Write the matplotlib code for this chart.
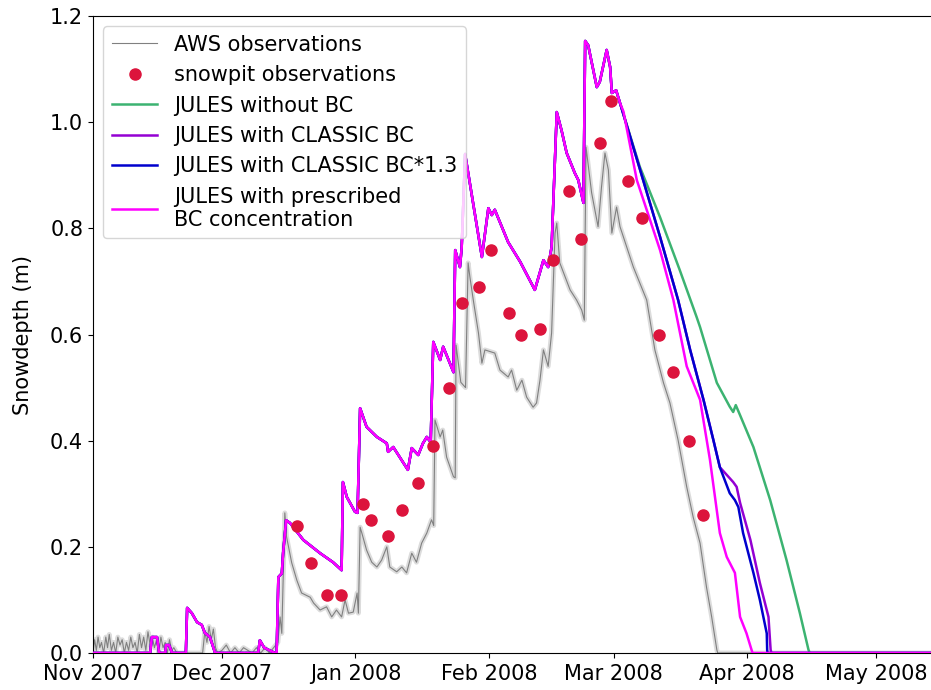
import matplotlib
matplotlib.use('Agg')
import matplotlib.pyplot as plt
import matplotlib.dates as mdates
import numpy as np
import pandas as pd

plt.rcParams['font.family'] = ['DejaVu Sans']
plt.rcParams['font.size'] = 15

START = pd.Timestamp('2007-11-01')

# AWS snow depth (days since 1 Nov 2007, m)
aws_days = [0, 0.4, 0.8, 1.2, 1.6, 2.0, 2.5, 3.0, 3.4, 3.8, 4.3, 4.8, 5.3, 5.8, 6.3, 6.8,
            7.3, 7.8, 8.3, 8.8, 9.3, 9.8, 10.3, 10.8, 11.3, 11.8, 12.3, 12.8, 13.3, 13.8,
            14.3, 14.8, 15.3, 15.8, 16.3, 16.8, 17.3, 17.8, 18.3, 18.8, 19.5, 25.5,
            26.0, 26.5, 27.0, 27.5, 28.0, 28.5, 29.0, 30.0, 31.0, 32.0, 33.0, 34.0, 35.0,
            36.0, 37.0, 38.0, 39.0, 40.0, 41.0, 42.0, 43.0,
            43.5, 43.9, 44.6, 45.0, 46.2, 47.4, 48.5, 50.5, 51.3, 52.8, 54.3, 55.5, 56.6,
            57.8, 58.6, 59.4, 60.5, 61.4, 61.7,
            62.1, 62.5, 63.6, 64.8, 66.0, 67.1, 68.3, 69.0, 70.6, 71.8, 72.9, 74.1, 75.2,
            76.4, 77.6, 78.7, 79.2,
            79.5, 80.7, 81.3, 82.2, 83.8, 84.2, 84.4, 85.5, 86.6,
            87.2, 87.6, 88.4, 89.6, 90.4, 91.1, 93.4, 94.6, 96.5, 97.3, 98.5, 99.7, 100.8,
            102.3, 103.1, 103.9, 104.7, 105.8, 106.6,
            107.4, 107.8, 108.5, 110.9, 112.4, 113.6, 114.2,
            114.6, 115.9, 117.4, 118.2, 119.0, 119.8, 120.6, 121.7, 122.5, 125.6, 128.7,
            130.6, 132.6, 134.1, 136.0, 138.0, 139.5, 141.1, 142.6, 143.8, 145.0, 145.2, 196]
aws_depth = [0.0, 0.025, 0.005, 0.03, 0.01, 0.02, 0.0, 0.03, 0.01, 0.035, 0.005, 0.02, 0.0, 0.03, 0.015, 0.025,
             0.0, 0.02, 0.005, 0.03, 0.01, 0.02, 0.0, 0.035, 0.01, 0.03, 0.005, 0.04, 0.015, 0.03,
             0.01, 0.025, 0.0, 0.03, 0.01, 0.02, 0.0, 0.025, 0.005, 0.01, 0.0, 0.0,
             0.04, 0.02, 0.05, 0.025, 0.045, 0.01, 0.0, 0.005, 0.015, 0.0, 0.01, 0.0, 0.01,
             0.005, 0.0, 0.01, 0.0, 0.01, 0.0, 0.01, 0.02,
             0.068, 0.037, 0.264, 0.219, 0.17, 0.137, 0.113, 0.105, 0.094, 0.081, 0.087, 0.068, 0.081,
             0.068, 0.10, 0.075, 0.077, 0.113, 0.075,
             0.237, 0.226, 0.194, 0.171, 0.162, 0.175, 0.20, 0.162, 0.153, 0.162, 0.151, 0.188, 0.171,
             0.207, 0.226, 0.251, 0.24,
             0.439, 0.407, 0.42, 0.369, 0.332, 0.33, 0.58, 0.51, 0.50,
             0.735, 0.709, 0.665, 0.603, 0.546, 0.571, 0.565, 0.533, 0.52, 0.533, 0.495, 0.514, 0.482,
             0.463, 0.471, 0.514, 0.571, 0.54, 0.603,
             0.791, 0.81, 0.735, 0.684, 0.665, 0.646, 0.627,
             0.953, 0.867, 0.803, 0.878, 0.942, 0.91, 0.791, 0.84, 0.803, 0.727, 0.665,
             0.571, 0.509, 0.471, 0.401, 0.313, 0.256, 0.207, 0.124, 0.068, 0.006, 0.0, 0.0]

# snowpit measurements
pit_days = [47.4, 50.7, 54.4, 57.7, 62.8, 64.7, 68.6, 71.9, 75.6, 79.0, 82.8, 85.8, 89.8,
            92.6, 96.7, 99.5, 104.0, 107.0, 110.7, 113.5, 117.9, 120.5, 124.4, 127.7,
            131.6, 134.9, 138.6, 141.9]
pit_depth = [0.24, 0.17, 0.11, 0.11, 0.28, 0.25, 0.22, 0.27, 0.32, 0.39, 0.50, 0.66, 0.69,
             0.76, 0.64, 0.60, 0.61, 0.74, 0.87, 0.78, 0.96, 1.04, 0.89, 0.82,
             0.60, 0.53, 0.40, 0.26]

# JULES accumulation period, shared by all runs
acc_days = [0, 13.3, 13.7, 14.9, 15.4, 16.8, 17.0, 17.7, 18.4, 21.6, 21.9, 23.0, 24.2, 25.3,
            26.0, 27.2, 28.4, 38.4, 38.8, 39.8, 42.3,
            42.7, 43.1, 43.9, 44.2, 44.9, 45.8, 48.9, 52.8, 55.8, 57.8, 58.1, 59.0, 60.9, 61.5,
            62.1, 63.6, 66.0, 68.3, 68.6, 69.8, 73.2, 74.1, 75.6, 76.7, 77.6, 78.5,
            79.1, 80.7, 81.4, 83.8, 84.2, 85.3, 85.7, 86.5,
            90.4, 91.9, 92.7, 93.4, 96.5, 99.3, 102.7, 104.7, 105.8, 106.6,
            107.8, 108.9, 110.1, 112.0, 112.8, 114.0,
            114.4, 115.1, 117.1, 117.8, 119.4, 120.2, 120.6, 121.6, 122.5]
acc_depth = [0.0, 0.0, 0.03, 0.03, 0.0, 0.0, 0.015, 0.015, 0.0, 0.0, 0.085, 0.075, 0.058, 0.053,
             0.038, 0.03, 0.0, 0.0, 0.024, 0.01, 0.0,
             0.0, 0.143, 0.15, 0.188, 0.25, 0.245, 0.213, 0.188, 0.171, 0.156, 0.322, 0.294, 0.266, 0.264,
             0.461, 0.426, 0.407, 0.395, 0.379, 0.388, 0.345, 0.386, 0.373, 0.395, 0.407, 0.397,
             0.586, 0.552, 0.577, 0.529, 0.759, 0.727, 0.763, 0.94,
             0.746, 0.838, 0.825, 0.835, 0.774, 0.737, 0.684, 0.74, 0.727, 0.765,
             1.019, 0.985, 0.942, 0.904, 0.891, 0.848,
             1.153, 1.145, 1.066, 1.076, 1.136, 1.104, 1.055, 1.06, 1.036]

# melt period for each run
nobc_days = [127.1, 131.8, 136.4, 140.3, 141.1, 145.0, 148.0, 148.8, 149.4, 150.4, 153.5,
             157.4, 161.2, 164.3, 166.3, 166.6, 196]
nobc_depth = [0.916, 0.821, 0.721, 0.633, 0.614, 0.509, 0.464, 0.454, 0.467, 0.448, 0.388,
              0.288, 0.175, 0.075, 0.006, 0.0, 0.0]

classic_days = [127.1, 131.8, 136.0, 138.8, 141.9, 144.2, 145.7, 148.8, 149.6, 150.4, 152.8,
                155.0, 157.0, 157.5, 157.7, 196]
classic_depth = [0.912, 0.784, 0.665, 0.571, 0.477, 0.401, 0.35, 0.322, 0.313, 0.283, 0.213,
                 0.132, 0.068, 0.006, 0.0, 0.0]

classic13_days = [127.1, 131.8, 136.0, 138.8, 141.9, 144.2, 145.7, 148.0, 149.2, 150.0, 151.1,
                  153.5, 155.0, 156.6, 156.7, 156.8, 196]
classic13_depth = [0.912, 0.784, 0.665, 0.571, 0.477, 0.401, 0.35, 0.301, 0.288, 0.275, 0.226,
                   0.151, 0.10, 0.037, 0.005, 0.0, 0.0]

presc_days = [123.3, 126.4, 131.8, 134.9, 138.0, 141.1, 143.4, 145.7, 147.3, 149.2, 150.4,
              151.9, 153.1, 153.3, 196]
presc_depth = [1.02, 0.891, 0.759, 0.665, 0.54, 0.477, 0.364, 0.226, 0.181, 0.151, 0.068,
               0.037, 0.005, 0.0, 0.0]


def to_dates(days):
    return START + pd.to_timedelta(np.array(days, dtype=float), unit='D')


fig = plt.figure(figsize=(9.31, 6.9), dpi=100)
ax = fig.add_axes([92.9 / 931, 1 - 653 / 690, 196 * 4.303 / 931, 637 / 690])

aws_t = to_dates(aws_days)
ax.plot(aws_t, aws_depth, color='#dcdcdc', lw=3.5, zorder=1)
ax.plot(aws_t, aws_depth, color='grey', lw=0.8, zorder=2, label='AWS observations')
ax.plot(to_dates(pit_days), pit_depth, 'o', color='crimson', ms=8, zorder=6,
        label='snowpit observations')

runs = [
    ('JULES without BC', 'mediumseagreen', nobc_days, nobc_depth),
    ('JULES with CLASSIC BC', 'darkviolet', classic_days, classic_depth),
    ('JULES with CLASSIC BC*1.3', 'mediumblue', classic13_days, classic13_depth),
    ('JULES with prescribed\nBC concentration', 'magenta', presc_days, presc_depth),
]
for i, (name, col, d, v) in enumerate(runs):
    ax.plot(to_dates(acc_days + d), acc_depth + v, color=col, lw=1.8, zorder=3 + i * 0.1,
            label=name)

ax.set_xlim(to_dates([0])[0], to_dates([196])[0])
ax.set_ylim(0, 1.2)
ax.set_yticks(np.arange(0, 1.21, 0.2))
ax.xaxis.set_major_locator(mdates.MonthLocator())
ax.xaxis.set_major_formatter(mdates.DateFormatter('%b %Y'))
ax.tick_params(axis='x', pad=4.5)
ax.set_ylabel('Snowdepth (m)', labelpad=12)
ax.legend(loc='upper left', handlelength=2.2)

fig.savefig('out.png', dpi=100)
